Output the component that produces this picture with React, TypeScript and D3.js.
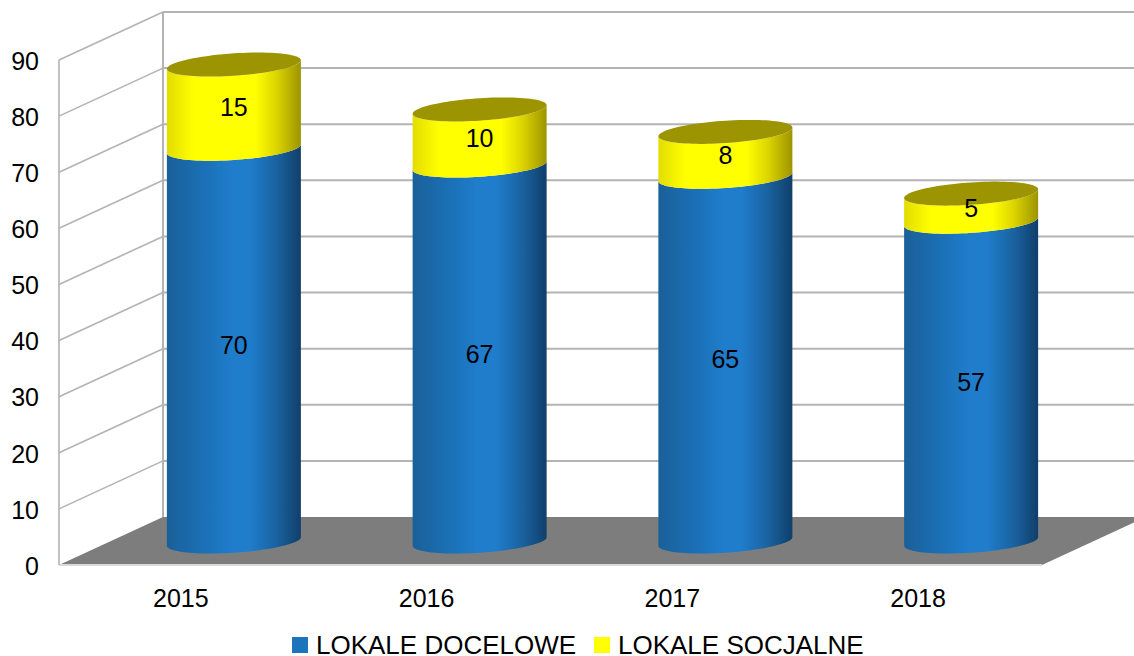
import React from "react";
import * as d3 from "d3";

const years = ["2015", "2016", "2017", "2018"];
const docelowe = [70, 67, 65, 57];
const socjalne = [15, 10, 8, 5];
const ticks = [0, 10, 20, 30, 40, 50, 60, 70, 80, 90];
const seriesNames = ["LOKALE DOCELOWE", "LOKALE SOCJALNE"];

const W = 1134, H = 656;
const font = "'Liberation Sans', Arial, sans-serif";
const depthX = 104, depthY = -48;
const x = d3.scaleBand<string>().domain(years).range([59, 1042]);
const y = d3.scaleLinear().domain([0, 90]).range([565, 60]);
const rx = 67, ry = 11.2, skew = 0.065;

const pt = (cx: number, cy: number, t: number): [number, number] => [
  cx + rx * Math.cos(t),
  cy + ry * Math.sin(t) - skew * rx * Math.cos(t),
];
const ang = (a: number, b: number, n = 48) => d3.range(n + 1).map((i) => a + ((b - a) * i) / n);
const line = d3.line();

function body(cx: number, cyLow: number, cyHigh: number) {
  const lowFront = ang(Math.PI, 0).map((t) => pt(cx, cyLow, t));
  const highBack = ang(0, Math.PI).map((t) => pt(cx, cyHigh, t));
  return line([...lowFront, ...highBack])! + "Z";
}
function disc(cx: number, cy: number) {
  return line(ang(0, 2 * Math.PI, 96).map((t) => pt(cx, cy, t)))! + "Z";
}

const blueStops: [number, string][] = [
  [0, "#1a6099"], [0.28, "#1b70b6"], [0.48, "#1f7dcc"], [0.62, "#1f7dcc"], [0.82, "#1a629f"], [1, "#103f6b"],
];
const yellowStops: [number, string][] = [
  [0, "#e3dc00"], [0.2, "#ffff00"], [0.66, "#ffff00"], [0.82, "#dcd400"], [1, "#9c9400"],
];

export default function App() {
  const gridColor = "#b3b3b3";
  const back = (v: number) => y(v) + depthY;
  const x0 = x.range()[0], x1 = x.range()[1];
  const cy = (v: number) => y(v) + depthY / 2 + 0.5;
  return (
    <svg width={W} height={H} viewBox={`0 0 ${W} ${H}`} style={{ position: "fixed", left: 0, top: 0, background: "#fff" }}>
      <defs>
        <linearGradient id="blue" x1="0" x2="1" y1="0" y2="0">
          {blueStops.map(([o, c]) => <stop key={o} offset={o} stopColor={c} />)}
        </linearGradient>
        <linearGradient id="yellow" x1="0" x2="1" y1="0" y2="0">
          {yellowStops.map(([o, c]) => <stop key={o} offset={o} stopColor={c} />)}
        </linearGradient>
      </defs>

      <path
        d={line([
          [x0, y(0)], [x0 + depthX, y(0) + depthY], [x1 + depthX, y(0) + depthY], [x1, y(0)],
        ])! + "Z"}
        fill="#7d7d7d"
      />
      <line x1={x0} x2={x1} y1={y(0)} y2={y(0)} stroke="#d9d9d9" strokeWidth={2} />

      {ticks.map((t) => (
        <g key={t}>
          {t > 0 && <line x1={x0} y1={y(t)} x2={x0 + depthX} y2={back(t)} stroke={gridColor} strokeWidth={1.6} />}
          {t > 0 && <line x1={x0 + depthX} y1={back(t)} x2={W} y2={back(t)} stroke={gridColor} strokeWidth={2} />}
        </g>
      ))}
      <line x1={x0} x2={x0} y1={y(90)} y2={y(0)} stroke={gridColor} strokeWidth={1.6} />
      <line x1={x0 + depthX} x2={x0 + depthX} y1={back(90)} y2={back(0)} stroke={gridColor} strokeWidth={2} />

      {ticks.map((t) => (
        <text key={t} x={39} y={y(t) + 1} dy="0.35em" textAnchor="end" fontFamily={font} fontSize={25} fill="#000">{t}</text>
      ))}
      {years.map((yr) => (
        <text key={yr} x={x(yr)! + x.bandwidth() / 2 - 1} y={598} dy="0.35em" textAnchor="middle" fontFamily={font} fontSize={25} fill="#000">{yr}</text>
      ))}

      {years.map((yr, i) => {
        const cx = x(yr)! + x.bandwidth() / 2 + depthX / 2;
        const a = docelowe[i], b = a + socjalne[i];
        return (
          <g key={yr}>
            <path d={body(cx, cy(0), cy(a))} fill="url(#blue)" />
            <path d={body(cx, cy(a), cy(b))} fill="url(#yellow)" />
            <path d={disc(cx, cy(b))} fill="#9c9400" />
            <text x={cx} y={cy(a / 2) + 0.5} dy="0.35em" textAnchor="middle" fontFamily={font} fontSize={25} fill="#000">{a}</text>
            <text x={cx} y={cy(a + socjalne[i] / 2) + 0.5} dy="0.35em" textAnchor="middle" fontFamily={font} fontSize={25} fill="#000">{socjalne[i]}</text>
          </g>
        );
      })}

      <rect x={292} y={637} width={16} height={16} fill="#1c75bc" />
      <text x={316} y={645} dy="0.35em" fontFamily={font} fontSize={26} fill="#000">{seriesNames[0]}</text>
      <rect x={594} y={637} width={16} height={16} fill="#ffff00" />
      <text x={618} y={645} dy="0.35em" fontFamily={font} fontSize={26} fill="#000">{seriesNames[1]}</text>
    </svg>
  );
}
